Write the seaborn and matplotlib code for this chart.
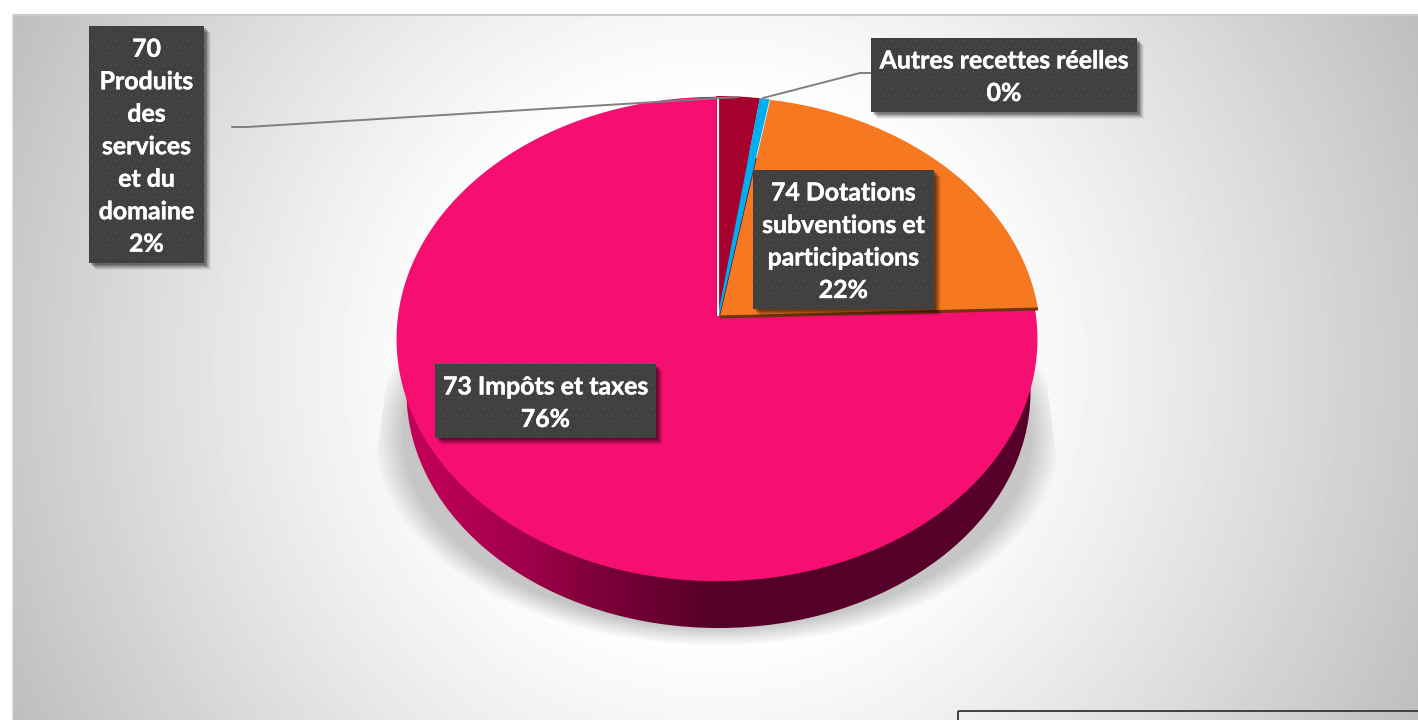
import numpy as np
import matplotlib
matplotlib.use("Agg")
import matplotlib.pyplot as plt
import matplotlib.patheffects as pe
import seaborn as sns
from matplotlib.colors import LinearSegmentedColormap
from matplotlib.patches import Ellipse, Rectangle
from matplotlib.path import Path
from matplotlib.transforms import Transform, Affine2D

# ---- data -------------------------------------------------------------
categories = ["70 Produits des services et du domaine", "Autres recettes réelles",
              "74 Dotations subventions et participations", "73 Impôts et taxes"]
values = [2.3, 0.45, 21.75, 75.5]
slice_colors = ["#A6002E", "#00AEEF", "#F67820", "#F40F70"]
slice_shift = [0, 1.5, 3, 0]
slice_edge = [1.6, 1.6, 0, 0]
label_texts = ["70\nProduits\ndes\nservices\net du\ndomaine\n2%",
               "Autres recettes réelles\n0%",
               "74 Dotations\nsubventions et\nparticipations\n22%",
               "73 Impôts et taxes\n76%"]
label_boxes = [(89, 26, 204, 263), (871, 38, 1137, 112), (753, 170, 934, 309), (435, 364, 656, 438)]

W, H = 1418, 720
sns.set_theme(style="white")
plt.rcParams["font.family"] = ["Lato", "DejaVu Sans"]

fig = plt.figure(figsize=(W / 100, H / 100), dpi=100, facecolor="white")
ax = fig.add_axes([0, 0, 1, 1])


class Tilt(Transform):
    """Perspective view of the unit-circle pie, in pixel coordinates."""
    input_dims = output_dims = 2
    has_inverse = False
    cx, cy, a, b, k = 717.0, 316.0, 319.0, 240.0, 0.095

    def transform_non_affine(self, v):
        v = np.asarray(v, float)
        w = 1 + self.k * v[:, 1]
        return np.column_stack([self.cx + self.a * v[:, 0] / w, self.cy - self.b * v[:, 1] / w])

    def transform_path_non_affine(self, path):
        polys = path.transformed(Affine2D().scale(2000)).to_polygons(closed_only=True)
        pts = np.vstack(polys) / 2000
        return Path(self.transform_non_affine(pts), closed=True)


wedges, _ = ax.pie(values, colors=sns.color_palette(slice_colors), startangle=90, counterclock=False,
                   radius=1, wedgeprops=dict(linewidth=0), frame=True)
for w, dx, lw, c, z in zip(wedges, slice_shift, slice_edge, slice_colors, [5.1, 5.2, 5.3, 5.0]):
    w.set_transform(Tilt() + Affine2D().translate(dx, 0) + ax.transData)
    w.set_zorder(z)
    if lw:
        w.set_edgecolor(c)
        w.set_linewidth(lw * 0.72)

ax.set_aspect("auto")
ax.set_xlim(0, W)
ax.set_ylim(H, 0)
ax.axis("off")

# background
X, Y = np.meshgrid(np.arange(12, W) + .5, np.arange(15, H) + .5)
r = np.hypot(X - 715, Y - 367)
t = np.clip((r - 260) / 530, 0, None)
g = np.clip(255 - 66 * t ** 1.15, 0, 255) / 255
ax.imshow(g, extent=(12, W, H, 15), cmap="gray", vmin=0, vmax=1, aspect="auto", zorder=0, interpolation="bilinear")
ax.plot([12, W], [14.5, 14.5], color="#c9c9c9", lw=1.5, zorder=1, solid_capstyle="butt")
ax.plot([11.5, 11.5], [14, H], color="#e4e4e4", lw=1, zorder=1)

# soft shadow below the pie
d = np.hypot((X - 717) / 344, (Y - 436) / 210)
al = np.clip((1 - d) / 0.09, 0, 1)
al = al * np.clip((Y - 262) / 110, 0, 1)
al = al * ((X < 1037 + (Y - 308) * 0.13) & (X > 396 - (Y - 308) * 0.13))
rgba = np.zeros(X.shape + (4,))
rgba[..., :3] = 0.78
rgba[..., 3] = al
ax.imshow(rgba, extent=(12, W, H, 15), aspect="auto", zorder=2)

# side wall with gradient
wall_cmap = LinearSegmentedColormap.from_list(
    "wall", [(0, "#C8005C"), (0.2, "#A0004A"), (0.32, "#7C0038"), (0.5, "#550029"), (1, "#58002A")])
wall = ax.imshow(np.linspace(0, 1, 256)[None, :], extent=(396, 1037, 630, 150), cmap=wall_cmap,
                 aspect="auto", zorder=3)
clip = Ellipse((718.5, 392), 624, 472, transform=ax.transData, facecolor="none", edgecolor="none")
ax.add_patch(clip)
wall.set_clip_path(clip)

# slice details
ax.plot([720, 1038], [317, 309], color="#6E3510", lw=2.2, zorder=6, solid_capstyle="butt")
ax.plot([717.5, 717.5], [97, 316], color="#F2ECEE", lw=1.6, zorder=6, solid_capstyle="butt")

# leader lines
ax.plot([232, 247, 738], [127, 127, 97], color="#7F7F7F", lw=1.4, zorder=7)
ax.plot([763, 860, 871], [98, 73, 73], color="#7F7F7F", lw=1.4, zorder=7)

# bottom-right frame
ax.add_patch(Rectangle((958, 711), 480, 40, fill=False, edgecolor="#404040", lw=1.4, zorder=7))

# labels
for txt, (x0, y0, x1, y1) in zip(label_texts, label_boxes):
    for off, a in ((7, .05), (6, .08), (5, .10), (4, .13), (3, .16), (2, .16)):
        ax.add_patch(Rectangle((x0 + off, y0 + off), x1 - x0, y1 - y0, facecolor="black",
                               alpha=a, edgecolor="none", zorder=8))
    w_, h_ = x1 - x0, y1 - y0
    tile = np.full((h_, w_, 3), 0x40 / 255)
    for j in range(3, h_, 6):
        for i in range(3 if (j // 6) % 2 == 0 else 6, w_, 6):
            tile[j, i] = 0x5A / 255
    ax.imshow(tile, extent=(x0, x1, y1, y0), aspect="auto", zorder=9, interpolation="nearest")
    ax.text((x0 + x1) / 2, (y0 + y1) / 2 + 2.2, txt, color="white", fontsize=17.9, fontweight="bold",
            ha="center", va="center", linespacing=1.5, zorder=10,
            path_effects=[pe.withStroke(linewidth=0.3, foreground="white")])

ax.set_xlim(0, W)
ax.set_ylim(H, 0)
fig.savefig("out.png", dpi=100)
